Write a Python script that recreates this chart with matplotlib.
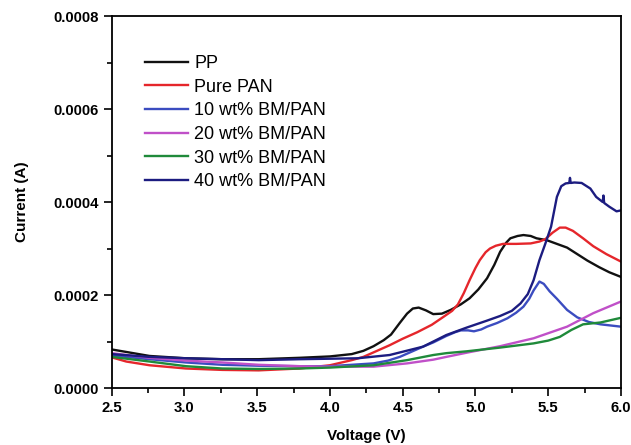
import matplotlib
matplotlib.use("Agg")
import matplotlib.pyplot as plt
from matplotlib.ticker import MultipleLocator, FormatStrFormatter

plt.rcParams['font.family'] = ['Liberation Sans', 'DejaVu Sans']

# LSV curves, current in units of 1e-4 A
pp_v = [2.5, 2.76, 3.01, 3.26, 3.51, 3.79, 4.0, 4.15, 4.23, 4.3, 4.37, 4.42, 4.48, 4.53, 4.57,
        4.61, 4.66, 4.71, 4.77, 4.83, 4.9, 4.96, 5.02, 5.08, 5.13, 5.17, 5.21, 5.24, 5.29, 5.33,
        5.38, 5.42, 5.49, 5.56, 5.63, 5.7, 5.77, 5.85, 5.92, 6.0]
pp_i = [0.83, 0.69, 0.64, 0.62, 0.62, 0.65, 0.68, 0.73, 0.80, 0.90, 1.03, 1.15, 1.40, 1.60, 1.71,
        1.73, 1.67, 1.59, 1.60, 1.68, 1.80, 1.93, 2.12, 2.36, 2.65, 2.93, 3.12, 3.22, 3.27, 3.29,
        3.27, 3.22, 3.18, 3.10, 3.02, 2.88, 2.74, 2.60, 2.49, 2.39]

pan_v = [2.5, 2.6, 2.76, 3.01, 3.26, 3.51, 3.79, 4.0, 4.15, 4.23, 4.41, 4.5, 4.6, 4.7, 4.78,
         4.84, 4.88, 4.92, 4.96, 5.0, 5.03, 5.07, 5.10, 5.14, 5.19, 5.28, 5.38, 5.44, 5.48, 5.53,
         5.58, 5.62, 5.67, 5.74, 5.81, 5.9, 6.0]
pan_i = [0.66, 0.57, 0.49, 0.42, 0.39, 0.38, 0.42, 0.49, 0.60, 0.67, 0.92, 1.06, 1.20, 1.36, 1.53,
         1.66, 1.80, 2.04, 2.32, 2.58, 2.75, 2.92, 3.00, 3.06, 3.10, 3.10, 3.11, 3.15, 3.20, 3.34,
         3.45, 3.45, 3.38, 3.22, 3.05, 2.88, 2.72]

bm10_v = [2.5, 2.76, 3.01, 3.26, 3.51, 3.79, 4.0, 4.3, 4.4, 4.48, 4.56, 4.64, 4.71, 4.8, 4.86,
          4.9, 4.95, 4.99, 5.04, 5.08, 5.15, 5.22, 5.28, 5.33, 5.37, 5.4, 5.44, 5.47, 5.51, 5.56,
          5.63, 5.7, 5.78, 5.86, 6.0]
bm10_i = [0.70, 0.62, 0.55, 0.50, 0.48, 0.47, 0.47, 0.53, 0.59, 0.67, 0.78, 0.89, 0.98, 1.12, 1.20,
          1.24, 1.24, 1.22, 1.26, 1.32, 1.40, 1.50, 1.62, 1.75, 1.92, 2.10, 2.29, 2.24, 2.08, 1.92,
          1.68, 1.52, 1.42, 1.37, 1.32]

bm20_v = [2.5, 2.76, 3.01, 3.26, 3.51, 3.79, 4.0, 4.3, 4.53, 4.71, 4.8, 4.94, 5.17, 5.4, 5.63,
          5.81, 6.0]
bm20_i = [0.75, 0.65, 0.59, 0.55, 0.50, 0.47, 0.46, 0.46, 0.53, 0.61, 0.67, 0.76, 0.90, 1.07, 1.32,
          1.61, 1.86]

bm30_v = [2.5, 2.76, 3.01, 3.26, 3.51, 3.79, 4.0, 4.3, 4.53, 4.71, 4.8, 4.94, 5.17, 5.4, 5.5,
          5.58, 5.66, 5.74, 5.86, 6.0]
bm30_i = [0.67, 0.57, 0.47, 0.42, 0.41, 0.42, 0.44, 0.49, 0.60, 0.71, 0.75, 0.79, 0.87, 0.96, 1.02,
          1.10, 1.25, 1.37, 1.41, 1.51]

bm40_v = [2.5, 2.76, 3.01, 3.26, 3.51, 3.79, 4.19, 4.41, 4.64, 4.8, 4.94, 5.08, 5.17, 5.25, 5.31,
          5.36, 5.4, 5.44, 5.48, 5.52, 5.56, 5.59, 5.62, 5.645, 5.65, 5.655, 5.68, 5.73, 5.79, 5.83,
          5.875, 5.88, 5.885, 5.92, 5.97, 6.0]
bm40_i = [0.73, 0.67, 0.64, 0.62, 0.60, 0.62, 0.64, 0.71, 0.89, 1.14, 1.30, 1.45, 1.55, 1.66, 1.82,
          2.02, 2.32, 2.75, 3.10, 3.47, 4.11, 4.34, 4.40, 4.41, 4.52, 4.41, 4.42, 4.41, 4.29, 4.11,
          4.0, 4.14, 3.98, 3.90, 3.80, 3.82]

series = [
    (pp_v, pp_i, 'PP', '#111111'),
    (pan_v, pan_i, 'Pure PAN', '#e5262b'),
    (bm10_v, bm10_i, '10 wt% BM/PAN', '#3b4cc0'),
    (bm20_v, bm20_i, '20 wt% BM/PAN', '#c050c8'),
    (bm30_v, bm30_i, '30 wt% BM/PAN', '#1f8a3a'),
    (bm40_v, bm40_i, '40 wt% BM/PAN', '#1c1c80'),
]

fig = plt.figure(figsize=(6.31, 4.45), dpi=100)
ax = fig.add_axes([0.177, 0.128, 0.807, 0.836])

for v, i, label, color in series:
    ax.plot(v, [x * 1e-4 for x in i], color=color, lw=1.7, label=label)

ax.set_xlim(2.5, 6.0)
ax.set_ylim(0, 0.0008)
ax.xaxis.set_major_locator(MultipleLocator(0.5))
ax.xaxis.set_minor_locator(MultipleLocator(0.25))
ax.yaxis.set_major_locator(MultipleLocator(0.0002))
ax.yaxis.set_minor_locator(MultipleLocator(0.0001))
ax.xaxis.set_major_formatter(FormatStrFormatter('%.1f'))
ax.yaxis.set_major_formatter(FormatStrFormatter('%.4f'))

ax.tick_params(which='major', direction='out', length=6, width=1.2, labelsize=10.7)
ax.tick_params(which='minor', direction='out', length=3.5, width=1.2)
for lab in ax.get_xticklabels() + ax.get_yticklabels():
    lab.set_fontweight('bold')
for s in ax.spines.values():
    s.set_linewidth(1.3)

ax.set_xlabel('Voltage (V)', fontsize=11, fontweight='bold', labelpad=10)
ax.set_ylabel('Current (A)', fontsize=11, fontweight='bold', labelpad=17)

ax.legend(loc='upper left', bbox_to_anchor=(0.052, 0.915), frameon=False, fontsize=13,
          handlelength=2.35, handletextpad=0.35, labelspacing=0.37, borderaxespad=0)

fig.savefig('out.png', dpi=100)
